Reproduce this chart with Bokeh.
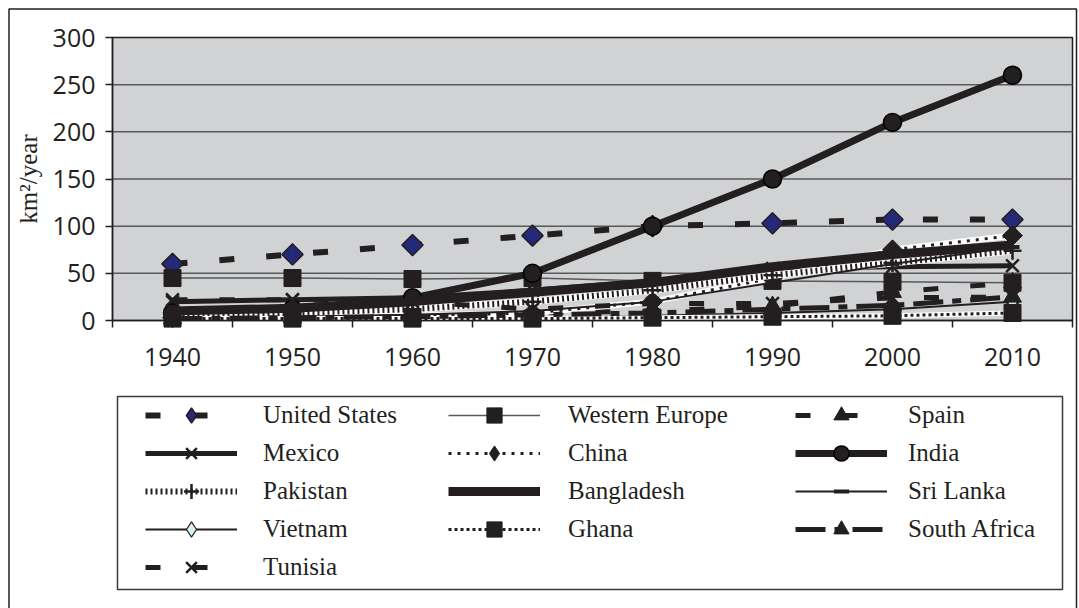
import math
from bokeh.plotting import figure
from bokeh.models import (Range1d, FixedTicker, Legend, LegendItem, BoxAnnotation,
                          ColumnDataSource)
from bokeh.embed import file_html
from bokeh.resources import INLINE

# ---------------- data ----------------
years = [1940, 1950, 1960, 1970, 1980, 1990, 2000, 2010]
year_labels = ["1940", "1950", "1960", "1970", "1980", "1990", "2000", "2010"]
y_ticks = [0, 50, 100, 150, 200, 250, 300]

united_states = [60, 70, 80, 90, 100, 103, 107, 107]
western_europe = [45, 45, 44, 45, 42, 42, 41, 40]
spain = [2, 3, 5, 8, 10, 15, 30, 40]
mexico = [20, 22, 24, 32, 42, 55, 57, 58]
china = [3, 4, 5, 8, 20, 45, 75, 90]
india = [8, 12, 24, 50, 100, 150, 210, 260]
pakistan = [5, 8, 12, 20, 32, 48, 61, 74]
bangladesh = [10, 13, 20, 30, 40, 57, 70, 80]
sri_lanka = [2, 4, 6, 10, 20, 40, 60, 78]
vietnam = [1, 1, 2, 3, 5, 8, 12, 20]
ghana = [2, 2, 2, 2, 3, 4, 5, 8]
south_africa = [2, 3, 4, 6, 8, 12, 16, 25]
tunisia = [22, 22, 20, 12, 18, 18, 24, 25]

INK = "#231f20"
W, H = 1079, 608

# plot-area geometry (pixels) -> data mapping used only for ranges/frames
PA_L, PA_R, PA_T, PA_B = 112, 1072, 37, 320
X_MIN, X_MAX, Y_MIN, Y_MAX = 1935, 2015, 0, 300
sx = (PA_R - PA_L) / (X_MAX - X_MIN)
sy = (PA_B - PA_T) / (Y_MAX - Y_MIN)


def xd(px):
    return X_MIN + (px - PA_L) / sx


def yd(py):
    return Y_MIN + (PA_B - py) / sy


p = figure(width=W, height=H, output_backend="svg", toolbar_location=None,
           x_range=Range1d(xd(0), xd(W)), y_range=Range1d(yd(H), yd(0)),
           min_border_left=0, min_border_right=0, min_border_top=0,
           min_border_bottom=0,
           background_fill_color="white", border_fill_color="white",
           outline_line_color=None)

# plot area background
p.add_layout(BoxAnnotation(left=X_MIN, right=X_MAX, bottom=Y_MIN, top=Y_MAX,
                           fill_color="#d1d2d4", fill_alpha=1, line_color=INK,
                           line_width=1.5, line_alpha=1, level="image"))

# horizontal gridlines inside plot area
p.segment(x0=X_MIN, x1=X_MAX, y0=y_ticks[1:-1], y1=y_ticks[1:-1],
          line_color="#58595b", line_width=1.5, level="underlay")
p.xgrid.visible = False
p.ygrid.visible = False

# axes (fixed inside the frame)
p.xaxis.fixed_location = 0
p.xaxis.bounds = (X_MIN, X_MAX)
p.xaxis.ticker = FixedTicker(ticks=years, minor_ticks=[X_MIN + 10 * i for i in range(9)])
p.xaxis.major_label_overrides = {y: s for y, s in zip(years, year_labels)}
p.xaxis.major_tick_line_color = None
p.xaxis.major_tick_out = 7
p.xaxis.major_tick_in = 0
p.xaxis.minor_tick_line_color = INK
p.xaxis.minor_tick_line_width = 1.5
p.xaxis.minor_tick_out = 7
p.xaxis.minor_tick_in = 0
p.xaxis.major_label_standoff = 20

p.yaxis.fixed_location = X_MIN
p.yaxis.bounds = (Y_MIN, Y_MAX)
p.yaxis.ticker = FixedTicker(ticks=y_ticks, minor_ticks=[])
p.yaxis.major_tick_out = 7
p.yaxis.major_tick_in = 0
p.yaxis.major_tick_line_color = INK
p.yaxis.major_tick_line_width = 1.5
p.yaxis.major_label_standoff = 10
p.yaxis.axis_label = "km²/year"
p.yaxis.axis_label_text_font = "Liberation Serif"
p.yaxis.axis_label_text_font_size = "25px"
p.yaxis.axis_label_text_font_style = "normal"
p.yaxis.axis_label_text_color = INK
p.yaxis.axis_label_standoff = 8

for ax in (p.xaxis, p.yaxis):
    ax.axis_line_color = INK
    ax.axis_line_width = 1.5
    ax.major_label_text_font = "Open Sans"
    ax.major_label_text_font_size = "25px"
    ax.major_label_text_color = INK


def series(vals, lines, marker=None, legend_marker=None):
    """Draw one series; returns the renderers used for its legend entry."""
    src = ColumnDataSource(dict(x=years, y=vals))
    rs = []
    for spec in lines:
        rs.append(p.line("x", "y", source=src, **spec))
    if marker:
        m = p.scatter("x", "y", source=src, **marker)
        if legend_marker is None:
            rs.append(m)
    if legend_marker:
        # legend-only glyph (legend markers cannot be rotated)
        rs.append(p.scatter("x", "y", source=src, visible=False, **legend_marker))
    return rs


r_us = series(united_states,
              [dict(line_color=INK, line_width=6, line_dash="15 32")],
              dict(marker="square", angle=math.pi / 4, size=15, fill_color="#25297a",
                   line_color=INK, line_width=1.5),
              dict(marker="diamond", fill_color="#25297a", line_color=INK,
                   line_width=1.5))
r_we = series(western_europe,
              [dict(line_color="#58595b", line_width=1.5)],
              dict(marker="square", size=17, fill_color=INK, line_color=INK))
r_es = series(spain,
              [dict(line_color=INK, line_width=5, line_dash="15 32")],
              dict(marker="triangle", size=18, fill_color=INK, line_color=INK))
r_mx = series(mexico,
              [dict(line_color=INK, line_width=5)],
              dict(marker="x", size=18, line_color=INK, line_width=2.5))
r_cn = series(china,
              [dict(line_color="white", line_width=6),
               dict(line_color=INK, line_width=3, line_dash="3 6")],
              dict(marker="square", angle=math.pi / 4, size=14, fill_color=INK,
                   line_color=INK),
              dict(marker="diamond", fill_color=INK, line_color=INK))
r_in = series(india,
              [dict(line_color=INK, line_width=7)],
              dict(marker="circle", size=18, fill_color=INK, line_color="black",
                   line_width=1.5))
r_pk = series(pakistan,
              [dict(line_color="white", line_width=7),
               dict(line_color=INK, line_width=6, line_dash="2 3")],
              dict(marker="cross", size=18, line_color=INK, line_width=2.5))
r_bd = series(bangladesh,
              [dict(line_color=INK, line_width=9)])
r_lk = series(sri_lanka,
              [dict(line_color=INK, line_width=2)],
              dict(marker="dash", size=14, line_color=INK, line_width=4))
r_vn = series(vietnam,
              [dict(line_color=INK, line_width=2)],
              dict(marker="square", angle=math.pi / 4, size=9, fill_color="#d8f1f6",
                   line_color=INK, line_width=1.2),
              dict(marker="diamond", fill_color="#d8f1f6", line_color=INK,
                   line_width=1.2))
r_gh = series(ghana,
              [dict(line_color="white", line_width=5),
               dict(line_color=INK, line_width=3, line_dash="3 3")],
              dict(marker="square", size=17, fill_color=INK, line_color=INK))
r_za = series(south_africa,
              [dict(line_color=INK, line_width=5, line_dash="30 9 9 9")],
              dict(marker="triangle", size=18, fill_color=INK, line_color=INK))
r_tn = series(tunisia,
              [dict(line_color=INK, line_width=5, line_dash="15 32")],
              dict(marker="x", size=18, line_color=INK, line_width=2.5))

ROW_H = 38     # legend row height (legend marker size = 0.4 * ROW_H)


def make_legend(entries, glyph_left_px, last_row_center_px, standoff):
    lg = Legend(items=[LegendItem(label=lab, renderers=rs) for lab, rs in entries],
                location=(glyph_left_px, H - (last_row_center_px + ROW_H / 2)),
                orientation="vertical",
                glyph_width=92, glyph_height=ROW_H, label_height=ROW_H,
                spacing=0,
                padding=0, margin=0, border_line_alpha=0, background_fill_alpha=0,
                label_standoff=standoff, label_text_font="Liberation Serif",
                label_text_font_size="25px", label_text_color=INK)
    p.add_layout(lg, "center")


make_legend([("United States", r_us), ("Mexico", r_mx), ("Pakistan", r_pk),
             ("Vietnam", r_vn), ("Tunisia", r_tn)], 145, 567, 26)
make_legend([("Western Europe", r_we), ("China", r_cn), ("Bangladesh", r_bd),
             ("Ghana", r_gh)], 448, 529, 28)
make_legend([("Spain", r_es), ("India", r_in), ("Sri Lanka", r_lk),
             ("South Africa", r_za)], 795, 529, 21)

# legend frame and outer chart frame
p.add_layout(BoxAnnotation(left=xd(117), right=xd(1062), top=yd(396), bottom=yd(589),
                           fill_alpha=0, line_color="#3a3a3a", line_width=1.5,
                           line_alpha=1))
p.add_layout(BoxAnnotation(left=xd(8.5), right=xd(1076), top=yd(8.5), bottom=yd(700),
                           fill_alpha=0, line_color=INK, line_width=1.5,
                           line_alpha=1))

open("out.html", "w").write(file_html(p, INLINE))
